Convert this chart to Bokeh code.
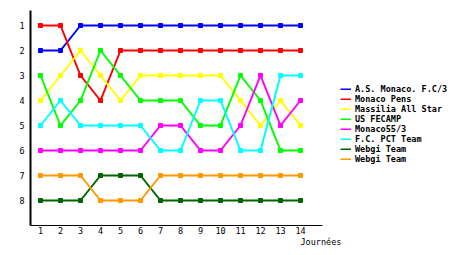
from bokeh.plotting import figure
from bokeh.models import Range1d, Legend, LegendItem, FixedTicker, Title
from bokeh.embed import file_html
from bokeh.resources import INLINE

rounds = list(range(1, 15))
teams = ["A.S. Monaco. F.C/3", "Monaco Pens", "Massilia All Star", "US FECAMP",
         "Monaco55/3", "F.C. PCT Team", "Webgi Team", "Webgi Team"]
colors = ["#0000FF", "#FF0000", "#FFFF00", "#00FF00",
          "#FF00FF", "#00FFFF", "#006400", "#FF9900"]

as_monaco = [2, 2, 1, 1, 1, 1, 1, 1, 1, 1, 1, 1, 1, 1]
monaco_pens = [1, 1, 3, 4, 2, 2, 2, 2, 2, 2, 2, 2, 2, 2]
massilia = [4, 3, 2, 3, 4, 3, 3, 3, 3, 3, 4, 5, 4, 5]
us_fecamp = [3, 5, 4, 2, 3, 4, 4, 4, 5, 5, 3, 4, 6, 6]
monaco55 = [6, 6, 6, 6, 6, 6, 5, 5, 6, 6, 5, 3, 5, 4]
fc_pct = [5, 4, 5, 5, 5, 5, 6, 6, 4, 4, 6, 6, 3, 3]
webgi_1 = [8, 8, 8, 7, 7, 7, 8, 8, 8, 8, 8, 8, 8, 8]
webgi_2 = [7, 7, 7, 8, 8, 8, 7, 7, 7, 7, 7, 7, 7, 7]
series = [as_monaco, monaco_pens, massilia, us_fecamp, monaco55, fc_pct, webgi_1, webgi_2]

x_ticks = rounds
y_ticks = list(range(1, 9))
x_label = "Journées"

FONT = "DejaVu Sans Mono"

p = figure(width=460, height=255, output_backend="svg", toolbar_location=None,
           x_range=Range1d(0.5, 22.0), y_range=Range1d(9, 0.4),
           min_border_left=30, min_border_right=0, min_border_top=10,
           min_border_bottom=30)
p.outline_line_color = None
p.xgrid.visible = False
p.ygrid.visible = False
p.background_fill_color = "white"
p.border_fill_color = "white"

for ax in (p.xaxis, p.yaxis):
    ax.major_tick_line_color = None
    ax.minor_tick_line_color = None
    ax.major_tick_out = 0
    ax.major_tick_in = 0
    ax.minor_tick_out = 0
    ax.minor_tick_in = 0
    ax.axis_line_color = "black"
    ax.major_label_text_font = FONT
    ax.major_label_text_font_size = "8.5px"
    ax.major_label_text_color = "black"
p.xaxis.ticker = FixedTicker(ticks=x_ticks)
p.yaxis.ticker = FixedTicker(ticks=y_ticks)
p.xaxis.bounds = (0.5, 15.1)
p.xaxis.axis_line_width = 1
p.yaxis.axis_line_width = 2
p.xaxis.major_label_standoff = 1
p.yaxis.major_label_standoff = 6

items = []
for name, col, vals in zip(teams, colors, series):
    r = p.line(rounds, vals, line_color=col, line_width=2)
    p.scatter(rounds, vals, marker="square", size=4, fill_color=col, line_color=col)
    items.append(LegendItem(label=name, renderers=[r]))

legend = Legend(items=items, location=(310, 61), orientation="vertical",
                glyph_width=11, glyph_height=2, label_height=10, spacing=0,
                padding=0, margin=0, label_standoff=4,
                label_text_font=FONT, label_text_font_size="8.5px",
                label_text_color="black", label_text_font_style="bold",
                border_line_color=None, background_fill_alpha=0)
p.add_layout(legend, "center")

t = Title(text=x_label, align="left", offset=270, text_font=FONT,
          text_font_size="8.5px", text_font_style="normal", text_color="black",
          standoff=-3)
p.add_layout(t, "below")

open("out.html", "w").write(file_html(p, INLINE))
